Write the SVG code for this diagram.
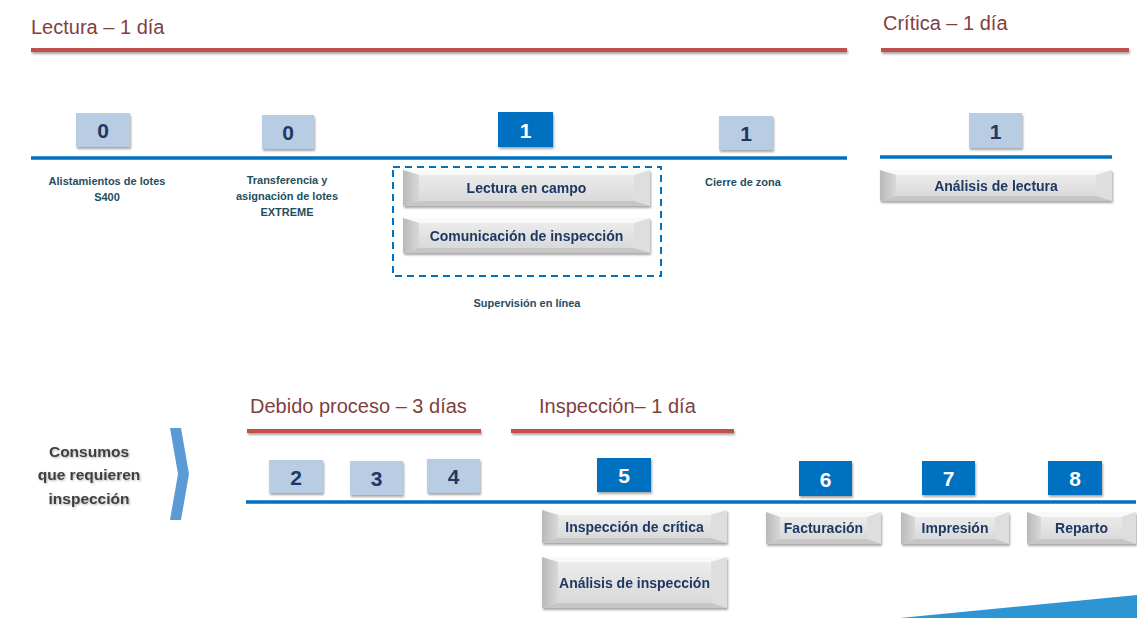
<svg xmlns="http://www.w3.org/2000/svg" width="1137" height="618" viewBox="0 0 1137 618">
<defs>
<linearGradient id="face" x1="0" y1="0" x2="0" y2="1">
<stop offset="0" stop-color="#efefef"/><stop offset="1" stop-color="#d6d6d6"/>
</linearGradient>
<linearGradient id="leftf" x1="0" y1="0" x2="1" y2="0">
<stop offset="0" stop-color="#b9b9b9"/><stop offset="1" stop-color="#d8d8d8"/>
</linearGradient>
<filter id="sh" x="-20%" y="-50%" width="140%" height="250%">
<feDropShadow dx="1" dy="2" stdDeviation="1.2" flood-color="#000" flood-opacity="0.35"/>
</filter>
<filter id="tsh" x="-10%" y="-10%" width="120%" height="130%">
<feDropShadow dx="1" dy="1" stdDeviation="0.8" flood-color="#000" flood-opacity="0.3"/>
</filter>
</defs>
<style>
.title{font-family:"Liberation Sans",Arial,sans-serif;font-size:20px;fill:#7f3f3f}
.red{fill:#c0504d}
.blue{stroke:#0070c0;stroke-width:3.5;fill:none}
.light{fill:#b8cce4}
.dark{fill:#0070c0}
.num{font-family:"Liberation Sans",Arial,sans-serif;font-size:21px;font-weight:bold;text-anchor:middle}
.numd{fill:#1f3864}
.numl{fill:#ffffff}
.lbl{font-family:"Liberation Sans",Arial,sans-serif;font-size:11px;font-weight:bold;fill:#1f4e5f;text-anchor:middle}
.btxt{font-family:"Liberation Sans",Arial,sans-serif;font-size:14px;font-weight:bold;fill:#1f3864;text-anchor:middle}
.ft{fill:#f9f9f9}.fl{fill:url(#leftf)}.fr{fill:#dedede}.fb{fill:#c6c6c6}
</style>
<rect width="1137" height="618" fill="#ffffff"/>

<g id="connectors">
<rect class="red" x="31" y="48" width="816" height="4" filter="url(#sh)"/>
<rect class="red" x="881" y="48" width="248" height="4" filter="url(#sh)"/>
<line class="blue" x1="31" y1="158" x2="847" y2="158"/>
<line class="blue" x1="880" y1="157" x2="1112" y2="157"/>
<rect class="red" x="247" y="429" width="234" height="4" filter="url(#sh)"/>
<rect class="red" x="511" y="429" width="223" height="4" filter="url(#sh)"/>
<line class="blue" x1="246" y1="502" x2="1136" y2="502"/>
</g>

<g id="titles">
<text class="title" x="31" y="34">Lectura – 1 día</text>
<text class="title" x="883" y="30">Crítica – 1 día</text>
<text class="title" x="250" y="413">Debido proceso – 3 días</text>
<text class="title" x="539" y="413">Inspección– 1 día</text>
</g>

<g id="n0a"><rect class="light" x="76" y="113" width="54" height="34" filter="url(#sh)"/><text class="num numd" x="103" y="138">0</text>
<text class="lbl" x="107" y="185">Alistamientos de lotes</text><text class="lbl" x="107" y="201">S400</text></g>
<g id="n0b"><rect class="light" x="262" y="115" width="52" height="34" filter="url(#sh)"/><text class="num numd" x="288" y="140">0</text>
<text class="lbl" x="287" y="184">Transferencia y</text><text class="lbl" x="287" y="200">asignación de lotes</text><text class="lbl" x="287" y="216">EXTREME</text></g>
<g id="n1a"><rect class="dark" x="498" y="112" width="55" height="35" filter="url(#sh)"/><text class="num numl" x="525.5" y="137.5">1</text></g>
<g id="n1b"><rect class="light" x="719" y="116" width="54" height="34" filter="url(#sh)"/><text class="num numd" x="746" y="141">1</text>
<text class="lbl" x="743" y="186">Cierre de zona</text></g>
<g id="n1c"><rect class="light" x="969" y="113" width="53" height="35" filter="url(#sh)"/><text class="num numd" x="995.5" y="138.5">1</text></g>

<g id="supervision">
<rect x="393" y="167" width="268" height="109" fill="none" stroke="#0070c0" stroke-width="2" stroke-dasharray="7,5"/>
<text class="lbl" x="527" y="307">Supervisión en línea</text>
</g>

<g id="b-lectura" filter="url(#sh)">
<rect x="403" y="170" width="247" height="36" fill="url(#face)"/>
<polygon class="ft" points="403,170 650,170 634,175 419,175"/>
<polygon class="fl" points="403,170 419,175 419,201 403,206"/>
<polygon class="fr" points="650,170 650,206 634,201 634,175"/>
<polygon class="fb" points="403,206 650,206 634,201 419,201"/>
<text class="btxt" x="526.5" y="193">Lectura en campo</text>
</g>
<g id="b-comunicacion" filter="url(#sh)">
<rect x="403" y="218" width="247" height="35" fill="url(#face)"/>
<polygon class="ft" points="403,218 650,218 634,223 419,223"/>
<polygon class="fl" points="403,218 419,223 419,248 403,253"/>
<polygon class="fr" points="650,218 650,253 634,248 634,223"/>
<polygon class="fb" points="403,253 650,253 634,248 419,248"/>
<text class="btxt" x="526.5" y="240.5">Comunicación de inspección</text>
</g>
<g id="b-analisis-lectura" filter="url(#sh)">
<rect x="880" y="170" width="232" height="31" fill="url(#face)"/>
<polygon class="ft" points="880,170 1112,170 1096,175 896,175"/>
<polygon class="fl" points="880,170 896,175 896,196 880,201"/>
<polygon class="fr" points="1112,170 1112,201 1096,196 1096,175"/>
<polygon class="fb" points="880,201 1112,201 1096,196 896,196"/>
<text class="btxt" x="996" y="190.5">Análisis de lectura</text>
</g>

<g id="consumos">
<text font-family="'Liberation Sans',Arial,sans-serif" font-size="15.5px" font-weight="bold" fill="#404040" text-anchor="middle" filter="url(#tsh)"><tspan x="89" y="457">Consumos</tspan><tspan x="89" y="480">que requieren</tspan><tspan x="89" y="504">inspección</tspan></text>
<polygon points="170,428 181,428 189,474 181,520 170,520 178,474" fill="#5b9bd5"/>
</g>

<g id="n2"><rect class="light" x="269" y="460" width="54" height="33" filter="url(#sh)"/><text class="num numd" x="296" y="484.5">2</text></g>
<g id="n3"><rect class="light" x="350" y="461" width="53" height="34" filter="url(#sh)"/><text class="num numd" x="376.5" y="486">3</text></g>
<g id="n4"><rect class="light" x="427" y="459" width="53" height="34" filter="url(#sh)"/><text class="num numd" x="453.5" y="484">4</text></g>
<g id="n5"><rect class="dark" x="597" y="458" width="54" height="34" filter="url(#sh)"/><text class="num numl" x="624" y="483">5</text></g>
<g id="n6"><rect class="dark" x="799" y="461" width="53" height="35" filter="url(#sh)"/><text class="num numl" x="825.5" y="486.5">6</text></g>
<g id="n7"><rect class="dark" x="922" y="461" width="53" height="34" filter="url(#sh)"/><text class="num numl" x="948.5" y="486">7</text></g>
<g id="n8"><rect class="dark" x="1048" y="461" width="54" height="34" filter="url(#sh)"/><text class="num numl" x="1075" y="486">8</text></g>

<g id="b-insp-critica" filter="url(#sh)">
<rect x="542" y="510" width="185" height="33" fill="url(#face)"/>
<polygon class="ft" points="542,510 727,510 711,515 558,515"/>
<polygon class="fl" points="542,510 558,515 558,538 542,543"/>
<polygon class="fr" points="727,510 727,543 711,538 711,515"/>
<polygon class="fb" points="542,543 727,543 711,538 558,538"/>
<text class="btxt" x="634.5" y="531.5">Inspección de crítica</text>
</g>
<g id="b-analisis-insp" filter="url(#sh)">
<rect x="542" y="557" width="185" height="51" fill="url(#face)"/>
<polygon class="ft" points="542,557 727,557 711,562 558,562"/>
<polygon class="fl" points="542,557 558,562 558,603 542,608"/>
<polygon class="fr" points="727,557 727,608 711,603 711,562"/>
<polygon class="fb" points="542,608 727,608 711,603 558,603"/>
<text class="btxt" x="634.5" y="587.5">Análisis de inspección</text>
</g>
<g id="b-facturacion" filter="url(#sh)">
<rect x="766" y="512" width="115" height="32" fill="url(#face)"/>
<polygon class="ft" points="766,512 881,512 867,517 780,517"/>
<polygon class="fl" points="766,512 780,517 780,539 766,544"/>
<polygon class="fr" points="881,512 881,544 867,539 867,517"/>
<polygon class="fb" points="766,544 881,544 867,539 780,539"/>
<text class="btxt" x="823.5" y="532.5">Facturación</text>
</g>
<g id="b-impresion" filter="url(#sh)">
<rect x="901" y="512" width="108" height="32" fill="url(#face)"/>
<polygon class="ft" points="901,512 1009,512 995,517 915,517"/>
<polygon class="fl" points="901,512 915,517 915,539 901,544"/>
<polygon class="fr" points="1009,512 1009,544 995,539 995,517"/>
<polygon class="fb" points="901,544 1009,544 995,539 915,539"/>
<text class="btxt" x="955" y="532.5">Impresión</text>
</g>
<g id="b-reparto" filter="url(#sh)">
<rect x="1027" y="512" width="109" height="32" fill="url(#face)"/>
<polygon class="ft" points="1027,512 1136,512 1122,517 1041,517"/>
<polygon class="fl" points="1027,512 1041,517 1041,539 1027,544"/>
<polygon class="fr" points="1136,512 1136,544 1122,539 1122,517"/>
<polygon class="fb" points="1027,544 1136,544 1122,539 1041,539"/>
<text class="btxt" x="1081.5" y="532.5">Reparto</text>
</g>

<polygon id="swoosh" points="900,618 1137,595 1137,618" fill="#2e95d5"/>
</svg>
